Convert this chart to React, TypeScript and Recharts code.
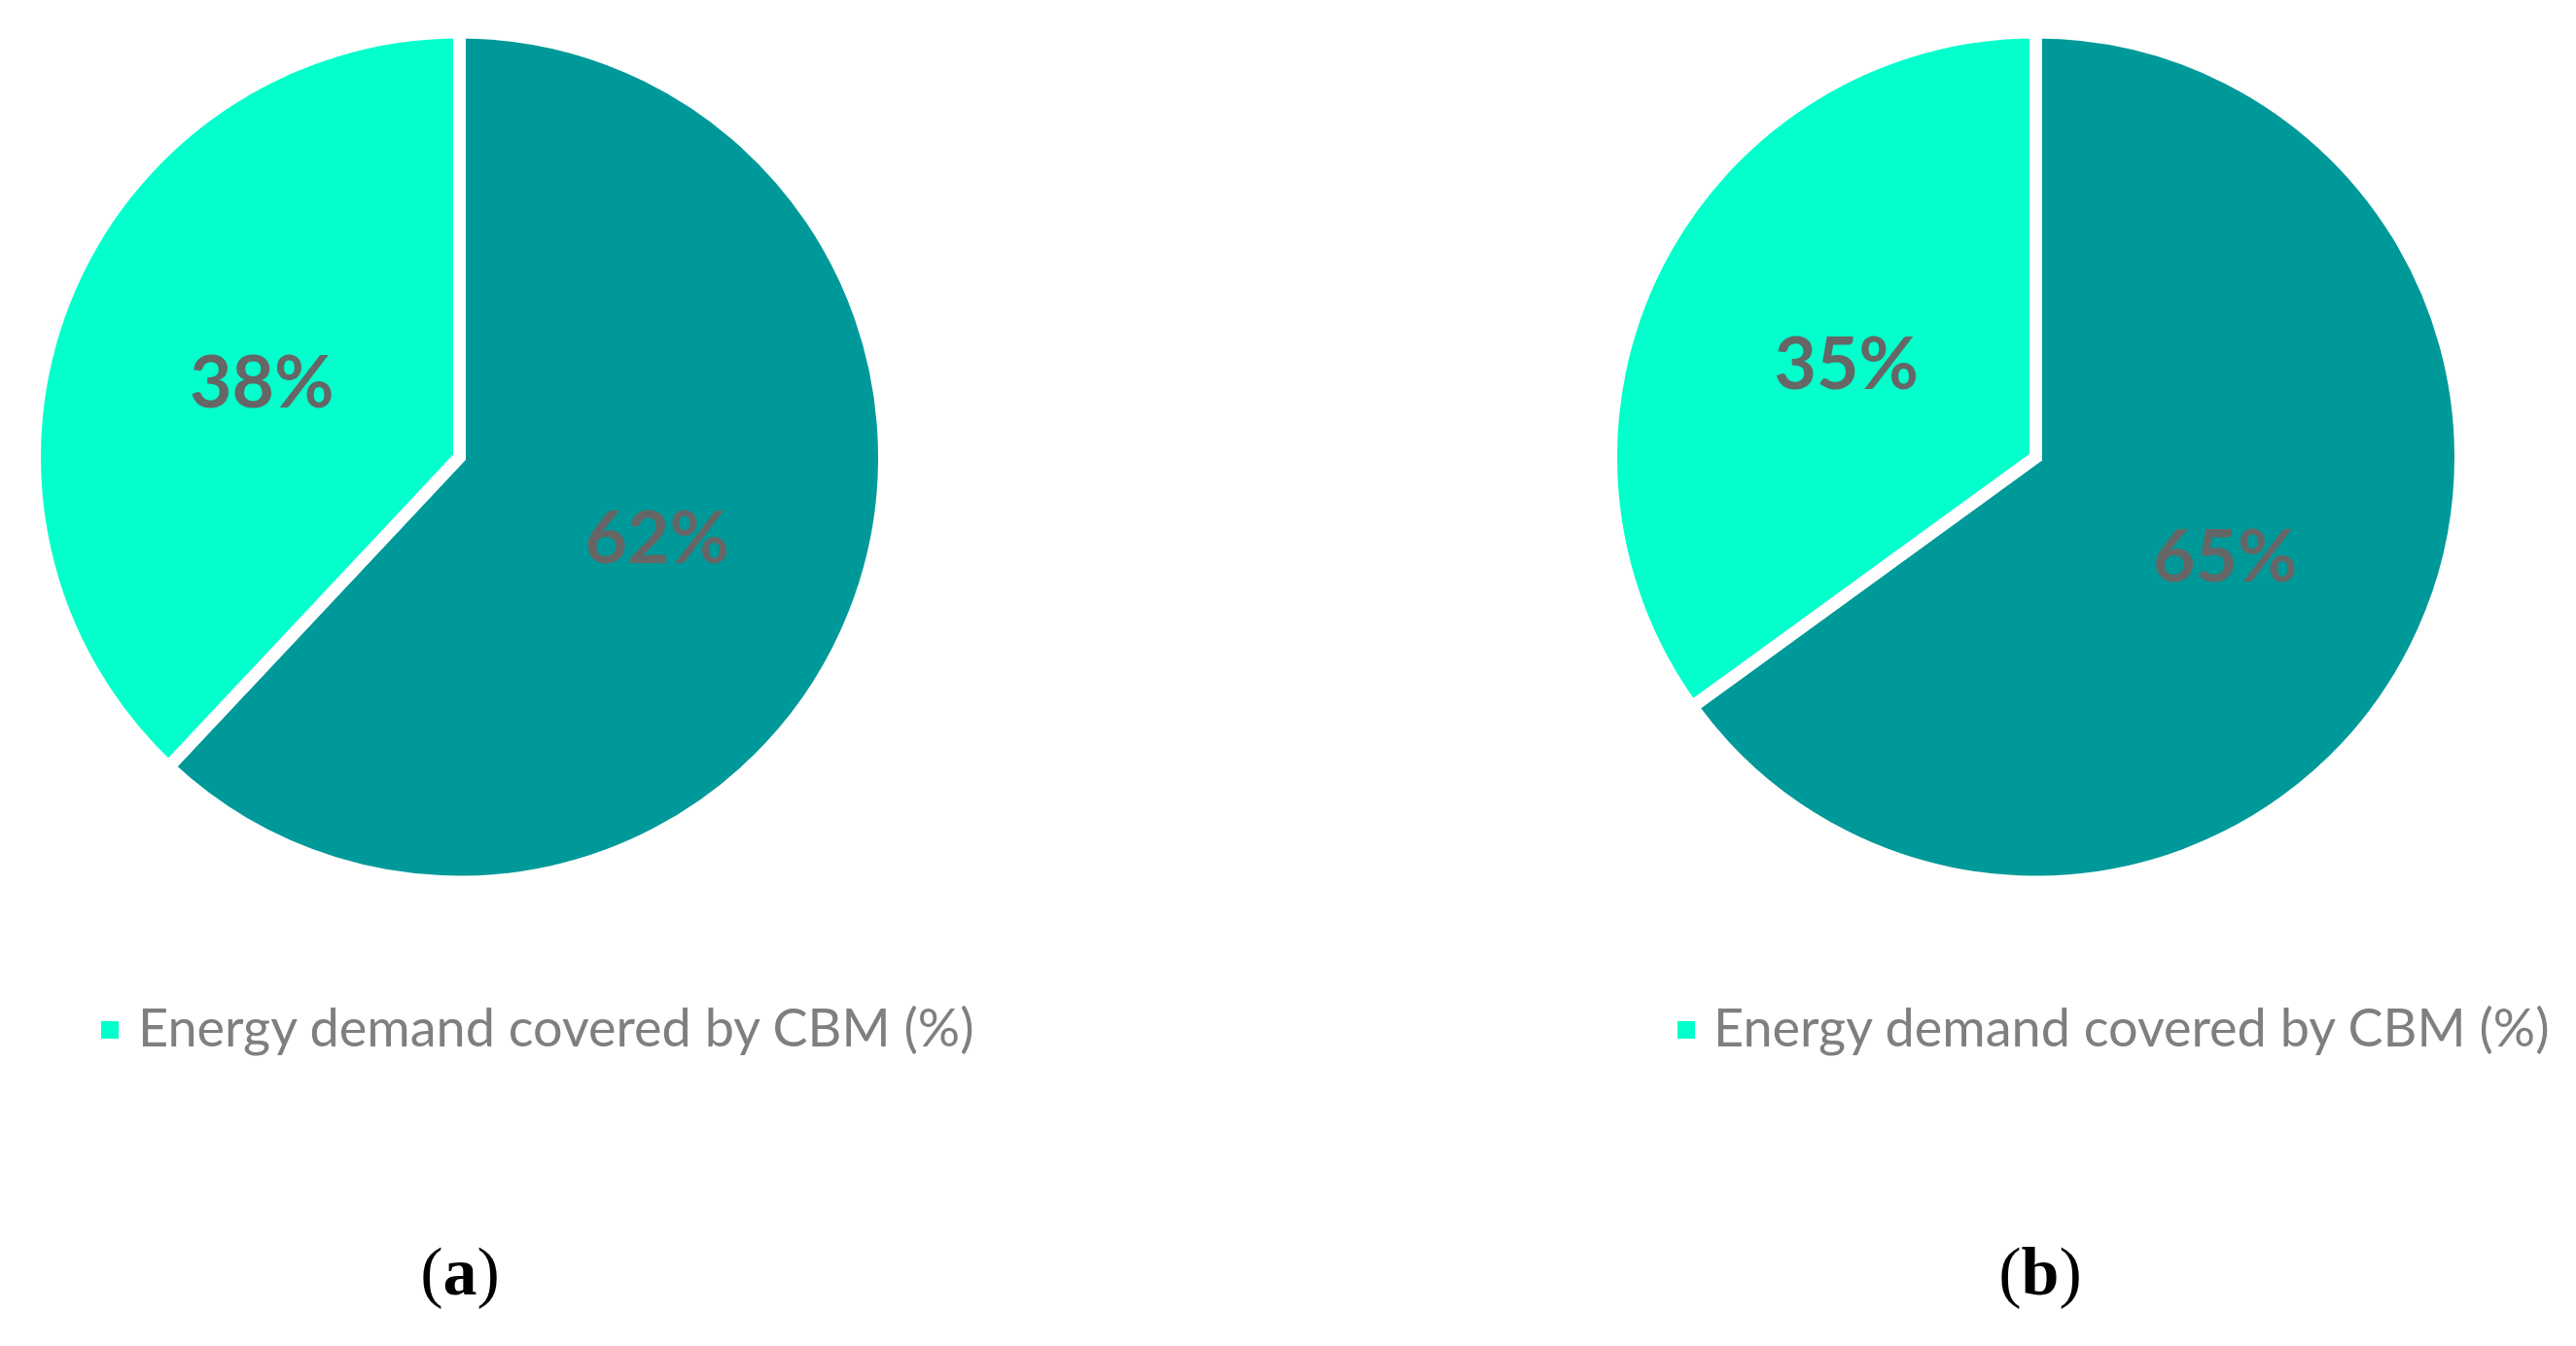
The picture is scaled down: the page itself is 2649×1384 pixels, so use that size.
import { PieChart, Pie, Cell } from 'recharts';

const sliceNames = ['Energy demand not covered (%)', 'Energy demand covered by CBM (%)'];
const valuesA = [62, 38];
const valuesB = [65, 35];
const sliceColors = ['#009999', '#03FFCC'];
const legendLabel = 'Energy demand covered by CBM (%)';
const panelTitles = ['a', 'b'];

const dataA = sliceNames.map((name, i) => ({ name, value: valuesA[i] }));
const dataB = sliceNames.map((name, i) => ({ name, value: valuesB[i] }));

const RAD = Math.PI / 180;

const renderLabel = (props: any) => {
    const { cx, cy, midAngle, outerRadius, value } = props;
    const r = outerRadius * 0.5;
    const x = cx + r * Math.cos(-midAngle * RAD);
    const y = cy + r * Math.sin(-midAngle * RAD);
    return (
        <text
            x={x}
            y={y}
            fill="#666666"
            textAnchor="middle"
            dominantBaseline="central"
            fontFamily="Lato, 'Open Sans', sans-serif"
            fontWeight={700}
            fontSize={75}
        >
            {`${value}%`}
        </text>
    );
};

const pies = [
    { data: dataA, cx: 472.5 },
    { data: dataB, cx: 2093.5 },
];

const legends = [
    { sq: 104, text: 142 },
    { sq: 1725, text: 1762 },
];

const titles = [473, 2098];

export default function App() {
    return (
        <div style={{ position: 'absolute', left: 0, top: 0, width: 2649, height: 1384, background: '#fff' }}>
            <PieChart width={2649} height={940} margin={{ top: 0, right: 0, bottom: 0, left: 0 }}>
                {pies.map((p, i) => (
                    <Pie
                        key={i}
                        data={p.data}
                        dataKey="value"
                        nameKey="name"
                        cx={p.cx}
                        cy={470}
                        outerRadius={437}
                        startAngle={90}
                        endAngle={-270}
                        stroke="#ffffff"
                        strokeWidth={13}
                        label={renderLabel}
                        labelLine={false}
                        isAnimationActive={false}
                    >
                        {p.data.map((d, j) => (
                            <Cell key={d.name} fill={sliceColors[j]} />
                        ))}
                    </Pie>
                ))}
            </PieChart>
            <svg width={2649} height={444} style={{ position: 'absolute', left: 0, top: 940 }}>
                {legends.map((l, i) => (
                    <g key={i}>
                        <rect x={l.sq} y={110} width={18} height={18} fill={sliceColors[1]} />
                        <text
                            x={l.text}
                            y={136}
                            fill="#7F7F7F"
                            fontFamily="Lato, 'Open Sans', sans-serif"
                            fontSize={54}
                        >
                            {legendLabel}
                        </text>
                    </g>
                ))}
                {titles.map((x, i) => (
                    <text
                        key={i}
                        x={x}
                        y={391}
                        textAnchor="middle"
                        fill="#000"
                        fontFamily="'Liberation Serif', 'Times New Roman', serif"
                        fontSize={70}
                    >
                        (<tspan fontWeight={700}>{panelTitles[i]}</tspan>)
                    </text>
                ))}
            </svg>
        </div>
    );
}
